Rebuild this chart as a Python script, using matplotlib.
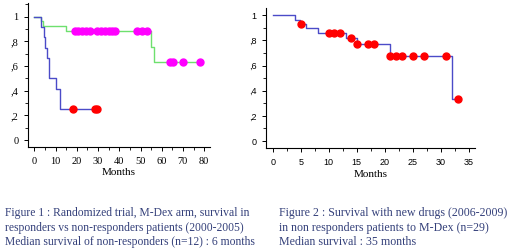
import matplotlib
matplotlib.use("Agg")
import matplotlib.pyplot as plt
from matplotlib.ticker import FuncFormatter, MultipleLocator

# ---- Figure 1 data (M-Dex arm) ----
nonresp_times = [0, 3, 4.7, 5.2, 5.7, 7, 10, 12, 29.5]
nonresp_surv = [1, 0.917, 0.833, 0.75, 0.667, 0.5, 0.417, 0.25, 0.25]
nonresp_cens_t = [18.4, 28.6, 29.3]
nonresp_cens_s = [0.25, 0.25, 0.25]

resp_times = [0, 3.3, 4.2, 14.8, 55.0, 56.5, 78.2]
resp_surv = [1, 0.964, 0.925, 0.886, 0.757, 0.635, 0.635]
resp_cens_t = [19.2, 20.7, 22.3, 24.2, 26.2, 29.7, 31.3, 33.2, 35.0, 36.6, 38.2,
               48.3, 50.6, 53.1, 64.0, 65.5, 69.8, 78.1]
resp_cens_s = [0.886] * 14 + [0.635] * 4

# ---- Figure 2 data (new drugs) ----
new_times = [0, 4, 4.8, 6, 8, 13, 15, 21, 32, 33.1]
new_surv = [1, 0.966, 0.931, 0.895, 0.859, 0.818, 0.775, 0.672, 0.336, 0.336]
new_cens_t = [5, 10, 11, 12, 14, 15.1, 17, 18, 21, 22, 23, 25, 27, 31, 33.1]
new_cens_s = [0.931, 0.859, 0.859, 0.859, 0.818, 0.775, 0.775, 0.775,
              0.672, 0.672, 0.672, 0.672, 0.672, 0.672, 0.336]

x1_ticks = [0, 10, 20, 30, 40, 50, 60, 70, 80]
x2_ticks = [0, 5, 10, 15, 20, 25, 30, 35]
y_ticks = [0, 0.2, 0.4, 0.6, 0.8, 1.0]

caption1 = ["Figure 1 : Randomized trial, M-Dex arm, survival in",
            "responders vs non-responders patients (2000-2005)",
            "Median survival of non-responders (n=12) : 6 months"]
caption2 = ["Figure 2 : Survival with new drugs (2006-2009)",
            "in non responders patients to M-Dex (n=29)",
            "Median survival : 35 months"]

BLUE = "#4b4bc8"
GREEN = "#6ee06e"
MAG = "#ff00ff"
RED = "#ff0000"
CAP = "#34407a"


def yfmt(v, pos):
    if abs(v - 1) < 1e-6:
        return "1"
    if abs(v) < 1e-6:
        return "0"
    return ",%d" % round(v * 10)


fig = plt.figure(figsize=(5.2, 2.48), dpi=100)
fig.patch.set_facecolor("white")

# ---------- Left axes ----------
ax1 = fig.add_axes([0.054, 0.407, 0.350, 0.581])
ax1.step(resp_times, resp_surv, where="post", color=GREEN, lw=1.0)
ax1.step(nonresp_times, nonresp_surv, where="post", color=BLUE, lw=1.0)
ax1.plot(resp_cens_t, resp_cens_s, "o", color=MAG, ms=5, mec=MAG)
ax1.plot(nonresp_cens_t, nonresp_cens_s, "o", color=RED, ms=5, mec=RED)
ax1.set_xlim(-3, 82.8)
ax1.set_ylim(-0.057, 1.111)
ax1.set_xticks(x1_ticks)
ax1.set_yticks(y_ticks)
ax1.xaxis.set_minor_locator(MultipleLocator(5))
ax1.yaxis.set_minor_locator(MultipleLocator(0.1))
ax1.yaxis.set_major_formatter(FuncFormatter(yfmt))
for lab in ax1.get_xticklabels() + ax1.get_yticklabels():
    lab.set_family("Liberation Serif")
    lab.set_fontsize(7.5)
ax1.set_xlabel("Months", family="Liberation Serif", fontsize=8, labelpad=1.5)

# ---------- Right axes ----------
ax2 = fig.add_axes([0.5115, 0.403, 0.402, 0.565])
ax2.step(new_times, new_surv, where="post", color=BLUE, lw=1.0)
ax2.plot(new_cens_t, new_cens_s, "o", color=RED, ms=5, mec=RED)
ax2.set_xlim(-1.2, 36.1)
ax2.set_ylim(-0.056, 1.058)
ax2.set_xticks(x2_ticks)
ax2.set_yticks(y_ticks)
ax2.xaxis.set_minor_locator(MultipleLocator(2.5))
ax2.yaxis.set_minor_locator(MultipleLocator(0.1))
ax2.yaxis.set_major_formatter(FuncFormatter(yfmt))
for lab in ax2.get_xticklabels() + ax2.get_yticklabels():
    lab.set_family("Liberation Sans")
    lab.set_fontsize(6.5)
ax2.set_xlabel("Months", family="Liberation Serif", fontsize=8, labelpad=2.5)

for ax in (ax1, ax2):
    for s in ("top", "right"):
        ax.spines[s].set_visible(False)
    for s in ("left", "bottom"):
        ax.spines[s].set_linewidth(0.8)
    ax.tick_params(which="major", direction="out", length=3, width=0.7, pad=4)
    ax.tick_params(which="minor", direction="out", length=2, width=0.6)

# ---------- Captions ----------
ys = [1 - 213 / 248, 1 - 228 / 248, 1 - 242 / 248]
for i, line in enumerate(caption1):
    fig.text(5 / 520, ys[i], line, family="Liberation Serif", fontsize=8.4,
             color=CAP, va="center", ha="left")
for i, line in enumerate(caption2):
    fig.text(279 / 520, ys[i], line, family="Liberation Serif", fontsize=8.6,
             color=CAP, va="center", ha="left")

fig.savefig("out.png", dpi=100, facecolor="white")
